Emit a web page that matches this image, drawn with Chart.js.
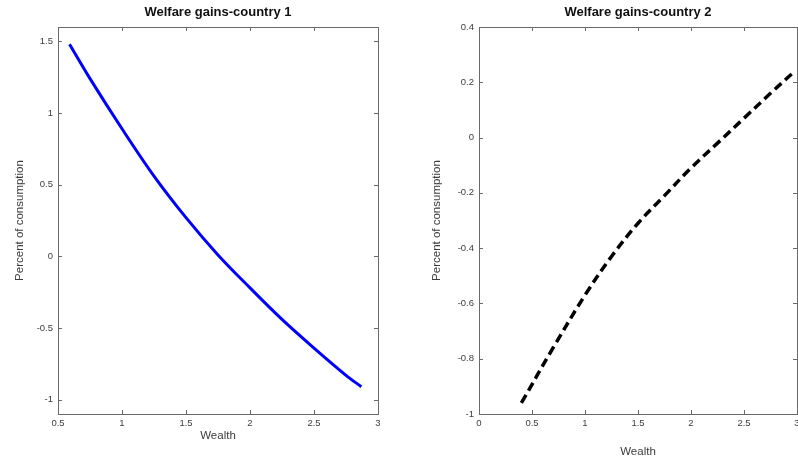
<!DOCTYPE html>
<html>
<head>
<meta charset="utf-8">
<script src="https://cdn.jsdelivr.net/npm/chart.js@4/dist/chart.umd.min.js"></script>
<style>
  html, body { margin: 0; padding: 0; background: #fff; overflow: hidden; }
  .panel { position: absolute; top: 0; height: 460px; }
  #left { left: 0; width: 400px; }
  #right { left: 400px; width: 410px; }
</style>
</head>
<body>
<div class="panel" id="left"><canvas id="c1"></canvas></div>
<div class="panel" id="right"><canvas id="c2"></canvas></div>
<script>
// country 1: welfare gain vs wealth
const wealth1 = [0.59, 0.75, 1.0, 1.25, 1.5, 1.75, 2.0, 2.25, 2.5, 2.75, 2.87];
const gains1 = [1.48, 1.24, 0.89, 0.56, 0.27, 0.01, -0.22, -0.44, -0.64, -0.83, -0.91];
const xTicks1 = [0.5, 1, 1.5, 2, 2.5, 3];
const yTicks1 = [-1, -0.5, 0, 0.5, 1, 1.5];

// country 2
const wealth2 = [0.4, 0.7, 1.0, 1.25, 1.5, 1.75, 2.0, 2.25, 2.5, 2.75, 2.95];
const gains2 = [-0.96, -0.76, -0.57, -0.43, -0.31, -0.21, -0.11, -0.02, 0.07, 0.16, 0.23];
const xTicks2 = [0, 0.5, 1, 1.5, 2, 2.5, 3];
const yTicks2 = [-1, -0.8, -0.6, -0.4, -0.2, 0, 0.2, 0.4];

const FONT = "'Liberation Sans', Arial, Helvetica, sans-serif";
const AXIS = "#6a6a6a";
const TEXT = "#3c3c3c";

// frame around the plot area with short inward tick marks on all four sides
const axesBox = {
  id: "axesBox",
  afterDatasetsDraw(chart) {
    const { ctx, chartArea: a, scales } = chart;
    ctx.save();
    ctx.strokeStyle = AXIS;
    ctx.lineWidth = 1;
    ctx.strokeRect(Math.round(a.left) + 0.5, Math.round(a.top) + 0.5,
                   Math.round(a.right - a.left), Math.round(a.bottom - a.top));
    ctx.beginPath();
    scales.x.ticks.forEach(t => {
      const px = Math.round(scales.x.getPixelForValue(t.value)) + 0.5;
      ctx.moveTo(px, a.bottom); ctx.lineTo(px, a.bottom - 4);
      ctx.moveTo(px, a.top); ctx.lineTo(px, a.top + 4);
    });
    scales.y.ticks.forEach(t => {
      const py = Math.round(scales.y.getPixelForValue(t.value)) + 0.5;
      ctx.moveTo(a.left, py); ctx.lineTo(a.left + 4, py);
      ctx.moveTo(a.right, py); ctx.lineTo(a.right - 4, py);
    });
    ctx.stroke();
    ctx.restore();
  }
};

function fmt(v) { return String(+v.toFixed(2)); }

function makePanel(id, cfg) {
  const points = cfg.xs.map((x, i) => ({ x: x, y: cfg.ys[i] }));
  return new Chart(document.getElementById(id), {
    type: "line",
    data: {
      datasets: [{
        data: points,
        borderColor: cfg.color,
        borderWidth: cfg.width,
        borderDash: cfg.dash,
        borderCapStyle: "butt",
        pointRadius: 0,
        tension: 0.35,
        fill: false
      }]
    },
    options: {
      responsive: true,
      maintainAspectRatio: false,
      animation: false,
      layout: { padding: { left: 0, right: cfg.padRight, top: 0, bottom: 0 } },
      plugins: {
        legend: { display: false },
        tooltip: { enabled: false },
        title: {
          display: true,
          text: cfg.title,
          fullSize: false,
          color: "#111",
          font: { family: FONT, size: 13, weight: "bold", lineHeight: 1.2 },
          padding: { top: 5, bottom: 6.4 }
        }
      },
      scales: {
        x: {
          type: "linear",
          min: cfg.xMin, max: cfg.xMax,
          afterBuildTicks: s => { s.ticks = cfg.xTicks.map(v => ({ value: v })); },
          afterFit: s => { s.height = 46; },
          grid: { display: false, drawTicks: false },
          border: { display: false },
          ticks: { color: TEXT, padding: 4, maxRotation: 0, autoSkip: false,
                   font: { family: FONT, size: 9.5 }, callback: fmt },
          title: { display: true, text: "Wealth", color: TEXT,
                   font: { family: FONT, size: 11.5, lineHeight: 1.2 },
                   padding: { top: 0, bottom: cfg.xTitlePad } }
        },
        y: {
          type: "linear",
          min: cfg.yMin, max: cfg.yMax,
          afterBuildTicks: s => { s.ticks = cfg.yTicks.map(v => ({ value: v })); },
          afterFit: s => { s.width = cfg.yWidth; },
          grid: { display: false, drawTicks: false },
          border: { display: false },
          ticks: { color: TEXT, padding: 5, autoSkip: false,
                   font: { family: FONT, size: 9.5 }, callback: fmt },
          title: { display: true, text: "Percent of consumption", color: TEXT,
                   font: { family: FONT, size: 11.5, lineHeight: 1.2 },
                   padding: { top: cfg.yTitlePad, bottom: 0 } }
        }
      }
    },
    plugins: [axesBox]
  });
}

makePanel("c1", {
  xs: wealth1, ys: gains1,
  title: "Welfare gains-country 1",
  color: "#0000ff", width: 3, dash: [],
  xMin: 0.5, xMax: 3, yMin: -1.1, yMax: 1.6,
  xTicks: xTicks1, yTicks: yTicks1,
  yWidth: 58, padRight: 22, xTitlePad: 17, yTitlePad: 13
});

makePanel("c2", {
  xs: wealth2, ys: gains2,
  title: "Welfare gains-country 2",
  color: "#000000", width: 3.5, dash: [9, 5],
  xMin: 0, xMax: 3, yMin: -1, yMax: 0.4,
  xTicks: xTicks2, yTicks: yTicks2,
  yWidth: 79, padRight: 13, xTitlePad: 1.5, yTitlePad: 30
});
</script>
</body>
</html>
